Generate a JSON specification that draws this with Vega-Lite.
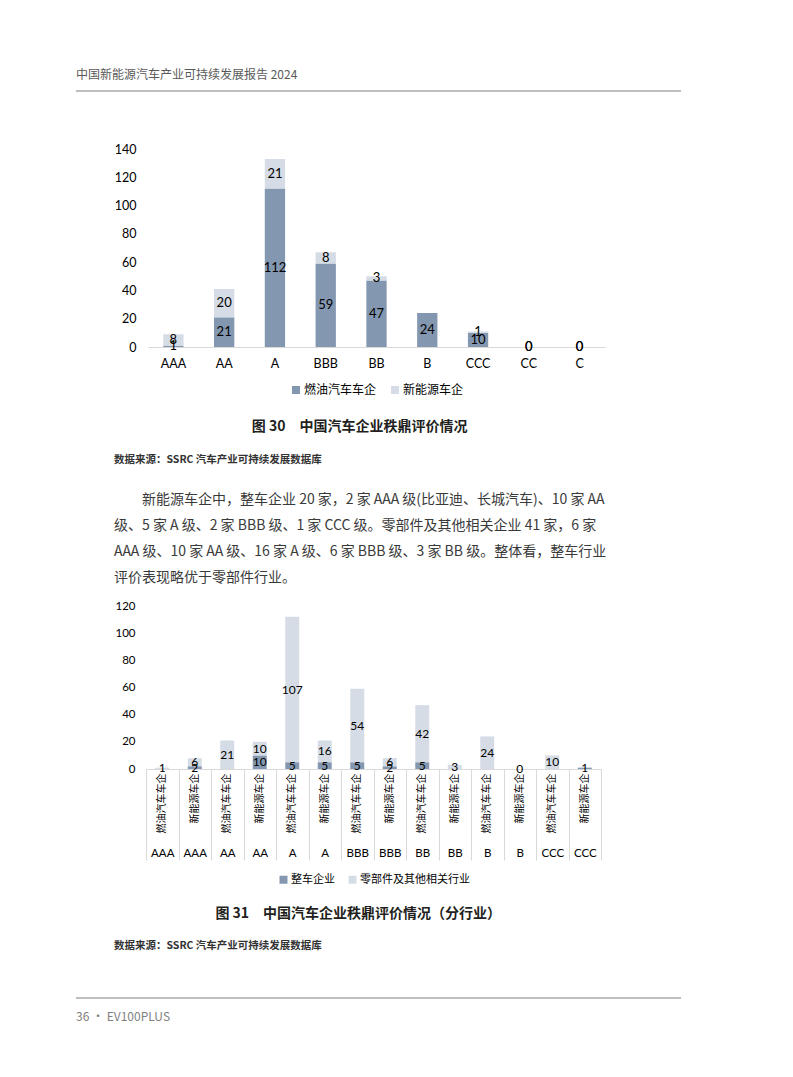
{
  "$schema": "https://vega.github.io/schema/vega-lite/v6.json",
  "padding": {"left": 75, "top": 69, "right": 0, "bottom": 0},
  "spacing": 0,
  "resolve": {"scale": {"color": "independent"}, "legend": {"color": "independent"}},
  "config": {
    "view": {"stroke": null},
    "font": "Noto Sans CJK SC",
    "axis": {"labelFont": "Lato, Noto Sans CJK SC", "labelColor": "#000000", "title": null, "grid": false},
    "legend": {
      "orient": "bottom", "direction": "horizontal", "title": null,
      "symbolType": "square", "symbolStrokeWidth": 0, "labelFont": "Noto Sans CJK SC", "labelColor": "#000000",
      "labelOffset": 2, "columnPadding": 12,
      "layout": {"bottom": {"anchor": "middle"}}
    },
    "title": {"font": "Noto Sans CJK SC", "color": "#231f20"}
  },
  "vconcat": [
    {
      "width": 605, "height": 1,
      "data": {"values": [{}]},
      "title": {"text": "中国新能源汽车产业可持续发展报告 2024", "anchor": "start", "frame": "group", "fontSize": 12, "fontWeight": "normal", "color": "#595959", "offset": 8.5},
      "mark": {"type": "rule", "color": "#7f7f7f", "strokeWidth": 1},
      "encoding": {"y": {"datum": 1, "type": "quantitative", "scale": {"domain": [0, 1]}, "axis": null}}
    },
    {"width": 1, "height": 51, "data": {"values": []}, "mark": "point"},
    {
      "spacing": 0,
      "resolve": {"scale": {"color": "independent"}, "legend": {"color": "independent"}},
      "hconcat": [
        {"width": 38, "height": 1, "data": {"values": []}, "mark": "point"},
        {
          "width": 457, "height": 198,
          "data": {"values": [
            {"grade": "AAA", "type": "燃油汽车车企", "n": 1},
            {"grade": "AA", "type": "燃油汽车车企", "n": 21},
            {"grade": "A", "type": "燃油汽车车企", "n": 112},
            {"grade": "BBB", "type": "燃油汽车车企", "n": 59},
            {"grade": "BB", "type": "燃油汽车车企", "n": 47},
            {"grade": "B", "type": "燃油汽车车企", "n": 24},
            {"grade": "CCC", "type": "燃油汽车车企", "n": 10},
            {"grade": "CC", "type": "燃油汽车车企", "n": 0},
            {"grade": "C", "type": "燃油汽车车企", "n": 0},
            {"grade": "AAA", "type": "新能源车企", "n": 8},
            {"grade": "AA", "type": "新能源车企", "n": 20},
            {"grade": "A", "type": "新能源车企", "n": 21},
            {"grade": "BBB", "type": "新能源车企", "n": 8},
            {"grade": "BB", "type": "新能源车企", "n": 3},
            {"grade": "CCC", "type": "新能源车企", "n": 1},
            {"grade": "CC", "type": "新能源车企", "n": 0},
            {"grade": "C", "type": "新能源车企", "n": 0}
          ]},
          "title": {"text": "图 30　中国汽车企业秩鼎评价情况", "orient": "bottom", "anchor": "middle", "frame": "bounds", "fontSize": 14, "fontWeight": "bold", "offset": 24},
          "encoding": {
            "x": {"field": "grade", "type": "nominal", "sort": null,
                  "scale": {"paddingInner": 0.6, "paddingOuter": 0.3},
                  "axis": {"labelAngle": 0, "labelFontSize": 12.5, "labelPadding": 10, "ticks": false, "domainColor": "#d9d9d9"}},
            "y": {"field": "n", "type": "quantitative", "stack": "zero",
                  "scale": {"domain": [0, 140], "nice": false},
                  "axis": {"values": [0, 20, 40, 60, 80, 100, 120, 140], "domain": false, "ticks": false, "labelPadding": 12, "labelFontSize": 12.5}},
            "order": {"field": "type", "sort": "descending"}
          },
          "layer": [
            {
              "mark": {"type": "bar"},
              "encoding": {
                "color": {"field": "type", "type": "nominal",
                          "scale": {"domain": ["燃油汽车车企", "新能源车企"], "range": ["#8497b0", "#d6dce5"]},
                          "legend": {"labelFontSize": 12, "symbolSize": 64, "offset": 14}}
              }
            },
            {
              "mark": {"type": "text", "font": "Lato", "fontSize": 13, "color": "#000000"},
              "encoding": {
                "y": {"field": "n", "type": "quantitative", "stack": "zero", "bandPosition": 0.5},
                "detail": {"field": "type"},
                "text": {"field": "n", "type": "quantitative"}
              }
            }
          ]
        }
      ]
    },
    {"width": 1, "height": 20, "data": {"values": []}, "mark": "point"},
    {
      "spacing": 0,
      "hconcat": [
        {"width": 38, "height": 1, "data": {"values": []}, "mark": "point"},
        {
          "width": 490, "height": 1,
          "data": {"values": []},
          "mark": "point",
          "title": {
            "text": "数据来源：SSRC 汽车产业可持续发展数据库",
            "subtitle": [
              "​　　新能源车企中，整车企业 20 家，2 家 AAA 级(比亚迪、长城汽车)、10 家 AA",
              "级、5 家 A 级、2 家 BBB 级、1 家 CCC 级。零部件及其他相关企业 41 家，6 家",
              "AAA 级、10 家 AA 级、16 家 A 级、6 家 BBB 级、3 家 BB 级。整体看，整车行业",
              "评价表现略优于零部件行业。"
            ],
            "anchor": "start", "frame": "group", "fontSize": 10.5, "fontWeight": "bold", "color": "#333333",
            "subtitleFont": "Noto Sans CJK SC", "subtitleFontSize": 14, "subtitleColor": "#3a3a3a",
            "subtitleLineHeight": 26, "subtitlePadding": 28, "offset": 4
          }
        }
      ]
    },
    {"width": 1, "height": 10, "data": {"values": []}, "mark": "point"},
    {
      "spacing": 0,
      "resolve": {"scale": {"color": "independent"}, "legend": {"color": "independent"}},
      "hconcat": [
        {"width": 38, "height": 1, "data": {"values": []}, "mark": "point"},
        {
          "width": 455, "height": 163,
          "data": {"values": [
            {"key": "AAA|燃油汽车车企", "industry": "零部件及其他相关行业", "n": 1},
            {"key": "AAA|新能源车企", "industry": "整车企业", "n": 2},
            {"key": "AAA|新能源车企", "industry": "零部件及其他相关行业", "n": 6},
            {"key": "AA|燃油汽车车企", "industry": "零部件及其他相关行业", "n": 21},
            {"key": "AA|新能源车企", "industry": "整车企业", "n": 10},
            {"key": "AA|新能源车企", "industry": "零部件及其他相关行业", "n": 10},
            {"key": "A|燃油汽车车企", "industry": "整车企业", "n": 5},
            {"key": "A|燃油汽车车企", "industry": "零部件及其他相关行业", "n": 107},
            {"key": "A|新能源车企", "industry": "整车企业", "n": 5},
            {"key": "A|新能源车企", "industry": "零部件及其他相关行业", "n": 16},
            {"key": "BBB|燃油汽车车企", "industry": "整车企业", "n": 5},
            {"key": "BBB|燃油汽车车企", "industry": "零部件及其他相关行业", "n": 54},
            {"key": "BBB|新能源车企", "industry": "整车企业", "n": 2},
            {"key": "BBB|新能源车企", "industry": "零部件及其他相关行业", "n": 6},
            {"key": "BB|燃油汽车车企", "industry": "整车企业", "n": 5},
            {"key": "BB|燃油汽车车企", "industry": "零部件及其他相关行业", "n": 42},
            {"key": "BB|新能源车企", "industry": "零部件及其他相关行业", "n": 3},
            {"key": "B|燃油汽车车企", "industry": "零部件及其他相关行业", "n": 24},
            {"key": "B|新能源车企", "industry": "零部件及其他相关行业", "n": 0},
            {"key": "CCC|燃油汽车车企", "industry": "零部件及其他相关行业", "n": 10},
            {"key": "CCC|新能源车企", "industry": "整车企业", "n": 1}
          ]},
          "title": {"text": "图 31　中国汽车企业秩鼎评价情况（分行业）", "orient": "bottom", "anchor": "middle", "frame": "bounds", "fontSize": 14, "fontWeight": "bold", "offset": 22},
          "encoding": {
            "y": {"field": "n", "type": "quantitative", "stack": "zero",
                  "scale": {"domain": [0, 120], "nice": false},
                  "axis": {"values": [0, 20, 40, 60, 80, 100, 120], "domain": false, "ticks": false, "labelPadding": 11, "labelFontSize": 11.5}},
            "order": {"field": "industry", "sort": "ascending"}
          },
          "layer": [
            {
              "mark": {"type": "bar", "width": {"band": 0.43}},
              "encoding": {
                "x": {"field": "key", "type": "nominal", "sort": null,
                      "scale": {"paddingInner": 0, "paddingOuter": 0},
                      "axis": {"orient": "bottom", "labelExpr": "split(datum.label, '|')[1]", "labelAngle": -90, "labelFont": "Noto Sans CJK SC",
                               "labelFontSize": 10, "labelPadding": 4, "ticks": false, "domainColor": "#d9d9d9"}},
                "color": {"field": "industry", "type": "nominal",
                          "scale": {"domain": ["整车企业", "零部件及其他相关行业"], "range": ["#8497b0", "#d6dce5"]},
                          "legend": {"labelFontSize": 11, "symbolSize": 64, "offset": 13}}
              }
            },
            {
              "mark": {"type": "text", "font": "Lato", "fontSize": 12, "color": "#000000"},
              "encoding": {
                "x": {"field": "key", "type": "nominal", "sort": null,
                      "scale": {"type": "band", "paddingInner": 0, "paddingOuter": 0},
                      "axis": {"orient": "bottom", "labelExpr": "split(datum.label, '|')[0]", "labelAngle": 0, "labelFontSize": 11.5,
                               "domain": false, "ticks": true, "tickBand": "extent", "tickSize": 91, "tickColor": "#d9d9d9", "labelPadding": -13}},
                "y": {"field": "n", "type": "quantitative", "stack": "zero", "bandPosition": 0.5},
                "detail": {"field": "industry"},
                "text": {"field": "n", "type": "quantitative"}
              }
            }
          ],
          "resolve": {"scale": {"x": "independent"}, "axis": {"x": "independent"}}
        }
      ]
    },
    {"width": 1, "height": 19, "data": {"values": []}, "mark": "point"},
    {
      "spacing": 0,
      "hconcat": [
        {"width": 38, "height": 1, "data": {"values": []}, "mark": "point"},
        {
          "width": 490, "height": 1,
          "data": {"values": []},
          "mark": "point",
          "title": {"text": "数据来源：SSRC 汽车产业可持续发展数据库", "anchor": "start", "frame": "group", "fontSize": 10.5, "fontWeight": "bold", "color": "#333333", "offset": 4}
        }
      ]
    },
    {"width": 1, "height": 41, "data": {"values": []}, "mark": "point"},
    {
      "width": 605, "height": 1,
      "data": {"values": [{}]},
      "title": {"text": "36 · EV100PLUS", "orient": "bottom", "anchor": "start", "frame": "group", "fontSize": 12, "fontWeight": "normal", "color": "#7f7f7f", "offset": 13},
      "mark": {"type": "rule", "color": "#7f7f7f", "strokeWidth": 1},
      "encoding": {"y": {"datum": 1, "type": "quantitative", "scale": {"domain": [0, 1]}, "axis": null}}
    }
  ]
}
